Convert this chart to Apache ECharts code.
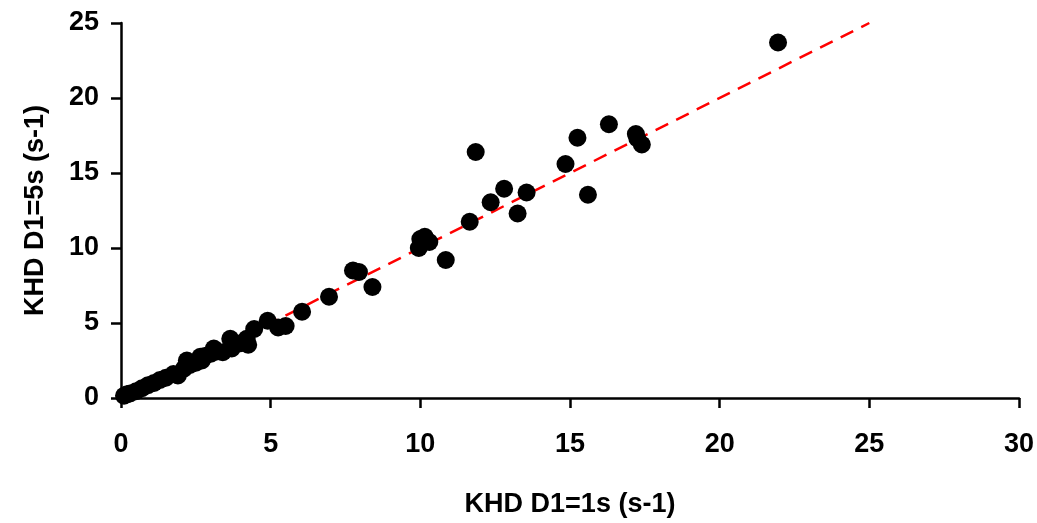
<!DOCTYPE html>
<html>
<head>
<meta charset="utf-8">
<script src="https://cdn.jsdelivr.net/npm/echarts@6/dist/echarts.min.js"></script>
<style>
  html, body { margin: 0; padding: 0; background: #fff; }
  #chart { width: 1037px; height: 523px; }
</style>
</head>
<body>
<div id="chart"></div>
<script>
// KHD rate at D1 = 1 s (x) against D1 = 5 s (y), in s-1
const khdD1at1s = [
  0.1, 0.2, 0.3, 0.5, 0.7, 0.9, 1.1, 1.3, 1.5, 1.75, 1.9, 2.1, 2.2, 2.3, 2.5, 2.65, 2.7,
  2.8, 3.0, 3.1, 3.2, 3.4, 3.65, 3.7, 4.0, 4.2, 4.25, 4.45, 4.9, 5.25, 5.5,
  6.05, 6.95, 7.75, 7.95, 8.4, 9.95, 10.0, 10.15, 10.3, 10.85, 11.65, 11.85,
  12.35, 12.8, 13.25, 13.55, 14.85, 15.25, 15.6, 16.3, 17.2, 17.25, 17.4, 21.95
];
const khdD1at5s = [
  0.15, 0.25, 0.3, 0.45, 0.65, 0.85, 1.0, 1.2, 1.35, 1.6, 1.5, 1.95, 2.5, 2.2, 2.35, 2.75, 2.5,
  2.8, 2.95, 3.3, 3.1, 3.05, 3.95, 3.3, 3.65, 3.95, 3.55, 4.6, 5.15, 4.7, 4.8,
  5.75, 6.75, 8.5, 8.4, 7.4, 10.0, 10.6, 10.75, 10.4, 9.2, 11.75, 16.4,
  13.05, 13.95, 12.3, 13.7, 15.6, 17.35, 13.55, 18.25, 17.6, 17.3, 16.9, 23.7
];
// 1:1 reference line
const identityLine = [[0, 0], [25, 25]];

const xTicks = { min: 0, max: 30, interval: 5 };
const yTicks = { min: 0, max: 25, interval: 5 };

const points = khdD1at1s.map((x, i) => [x, khdD1at5s[i]]);

const font = '"Liberation Sans", Arial, sans-serif';
const labelStyle = { fontFamily: font, fontWeight: 'bold', fontSize: 27, color: '#000' };
const axisCommon = {
  axisLine: { show: true, onZero: false, lineStyle: { color: '#000', width: 2.5 } },
  axisTick: { show: true, inside: false, length: 10, lineStyle: { color: '#000', width: 2.5 } },
  splitLine: { show: false },
  nameLocation: 'middle',
  nameTextStyle: { fontFamily: font, fontWeight: 'bold', fontSize: 27, color: '#000' }
};

const chart = echarts.init(document.getElementById('chart'), null, { renderer: 'canvas' });
chart.setOption({
  animation: false,
  backgroundColor: '#fff',
  grid: { left: 121, right: 18, top: 23, bottom: 125, containLabel: false },
  xAxis: Object.assign({}, axisCommon, {
    type: 'value',
    min: xTicks.min, max: xTicks.max, interval: xTicks.interval,
    name: 'KHD D1=1s (s-1)',
    nameGap: 93,
    axisLabel: Object.assign({ margin: 33 }, labelStyle)
  }),
  yAxis: Object.assign({}, axisCommon, {
    type: 'value',
    min: yTicks.min, max: yTicks.max, interval: yTicks.interval,
    name: 'KHD D1=5s (s-1)',
    nameGap: 72,
    nameRotate: 90,
    axisLabel: Object.assign({ margin: 22 }, labelStyle)
  }),
  series: [
    {
      // dashed 1:1 line sits beneath the markers
      type: 'line',
      data: identityLine,
      symbol: 'none',
      lineStyle: { color: '#ff0000', width: 2.5, type: [14, 9] },
      z: 1
    },
    {
      type: 'scatter',
      data: points,
      symbol: 'circle',
      symbolSize: 18,
      itemStyle: { color: '#000', opacity: 1 },
      z: 2
    }
  ]
});
</script>
</body>
</html>
